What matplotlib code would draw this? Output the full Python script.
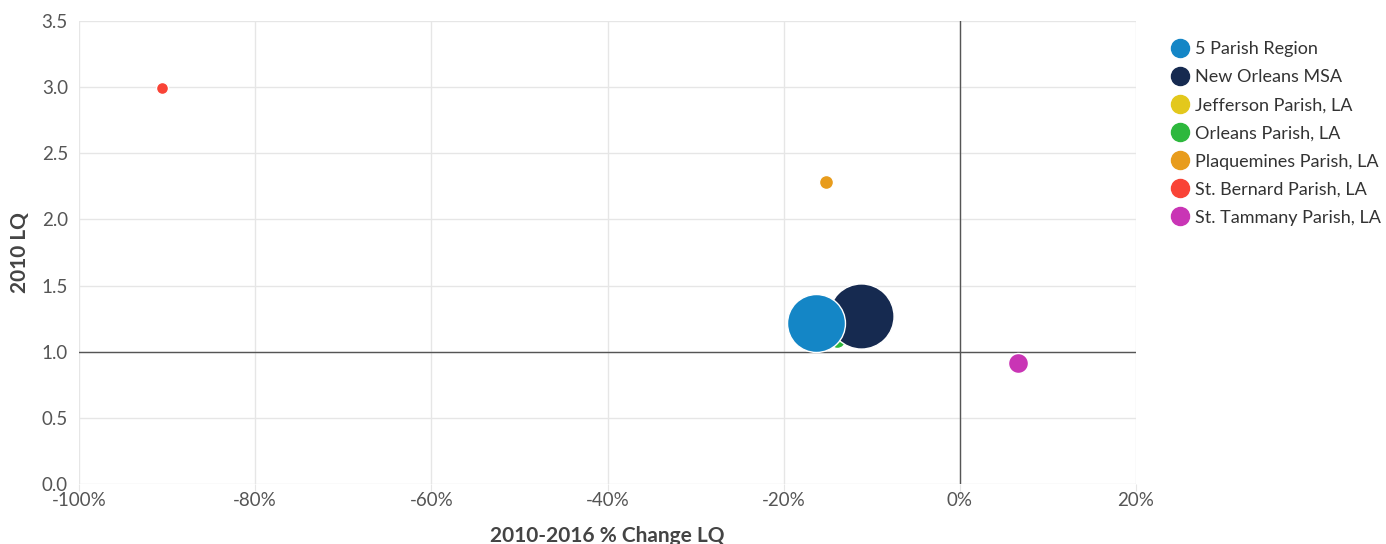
import numpy as np
import matplotlib.pyplot as plt
from matplotlib.lines import Line2D
from matplotlib.ticker import FuncFormatter

plt.rcParams['font.family'] = ['Lato', 'DejaVu Sans']

# series data: % change in LQ 2010-2016, 2010 LQ, bubble weight
names = ['5 Parish Region', 'New Orleans MSA', 'Jefferson Parish, LA', 'Orleans Parish, LA',
         'Plaquemines Parish, LA', 'St. Bernard Parish, LA', 'St. Tammany Parish, LA']
pct_change = [-16.3, -11.2, -12.5, -13.9, -15.2, -90.6, 6.6]
lq_2010 = [1.22, 1.27, 1.24, 1.09, 2.28, 2.99, 0.915]
weight = [840, 1060, 220, 64, 49, 36, 100]
colors = ['#1486c6', '#162a50', '#e3c81c', '#2db83d', '#e89c1c', '#f94336', '#c935b5']

# draw order: small hidden ones first, region on top
draw_order = [2, 3, 1, 0, 4, 5, 6]

fig = plt.figure(figsize=(13.86, 5.44), dpi=100)
ax = fig.add_axes([79 / 1386, 60 / 544, 1057 / 1386, 463 / 544])

px_to_pt = 72 / fig.dpi
for i in draw_order:
    r_px = np.sqrt(weight[i])
    s = (2 * r_px * px_to_pt) ** 2
    ax.scatter(pct_change[i], lq_2010[i], s=s, color=colors[i],
               edgecolor='white', linewidth=1, zorder=3)

ax.axhline(1.0, color='#555555', linewidth=1, zorder=2)
ax.axvline(0, color='#555555', linewidth=1, zorder=2)

ax.set_xlim(-100, 20)
ax.set_ylim(0, 3.5)
ax.set_xticks(np.arange(-100, 21, 20))
ax.set_yticks(np.arange(0, 3.51, 0.5))
ax.xaxis.set_major_formatter(FuncFormatter(lambda v, p: f'{v:.0f}%'))
ax.yaxis.set_major_formatter(FuncFormatter(lambda v, p: f'{v:.1f}'))
ax.grid(True, color='#e6e6e6', linewidth=1, zorder=0)
ax.set_axisbelow(True)
for sp in ax.spines.values():
    sp.set_visible(False)
ax.tick_params(axis='x', length=5, color='#e6e6e6', labelsize=13.5, labelcolor='#555555', pad=1)
ax.tick_params(axis='y', length=0, labelsize=13.5, labelcolor='#555555', pad=8)

ax.set_xlabel('2010-2016 % Change LQ', fontsize=15, fontweight='bold', color='#444444', labelpad=12)
ax.set_ylabel('2010 LQ', fontsize=15, fontweight='bold', color='#444444', labelpad=8)

handles = [Line2D([0], [0], marker='o', linestyle='', markersize=13,
                  markerfacecolor=c, markeredgecolor=c) for c in colors]
fig.legend(handles, names, loc='upper left', bbox_to_anchor=(1163 / 1386, 1 - 34 / 544),
           frameon=False, fontsize=13, labelcolor='#333333', handletextpad=0.25,
           labelspacing=0.67, borderaxespad=0, handlelength=1.1)

fig.savefig('out.png', dpi=100)
